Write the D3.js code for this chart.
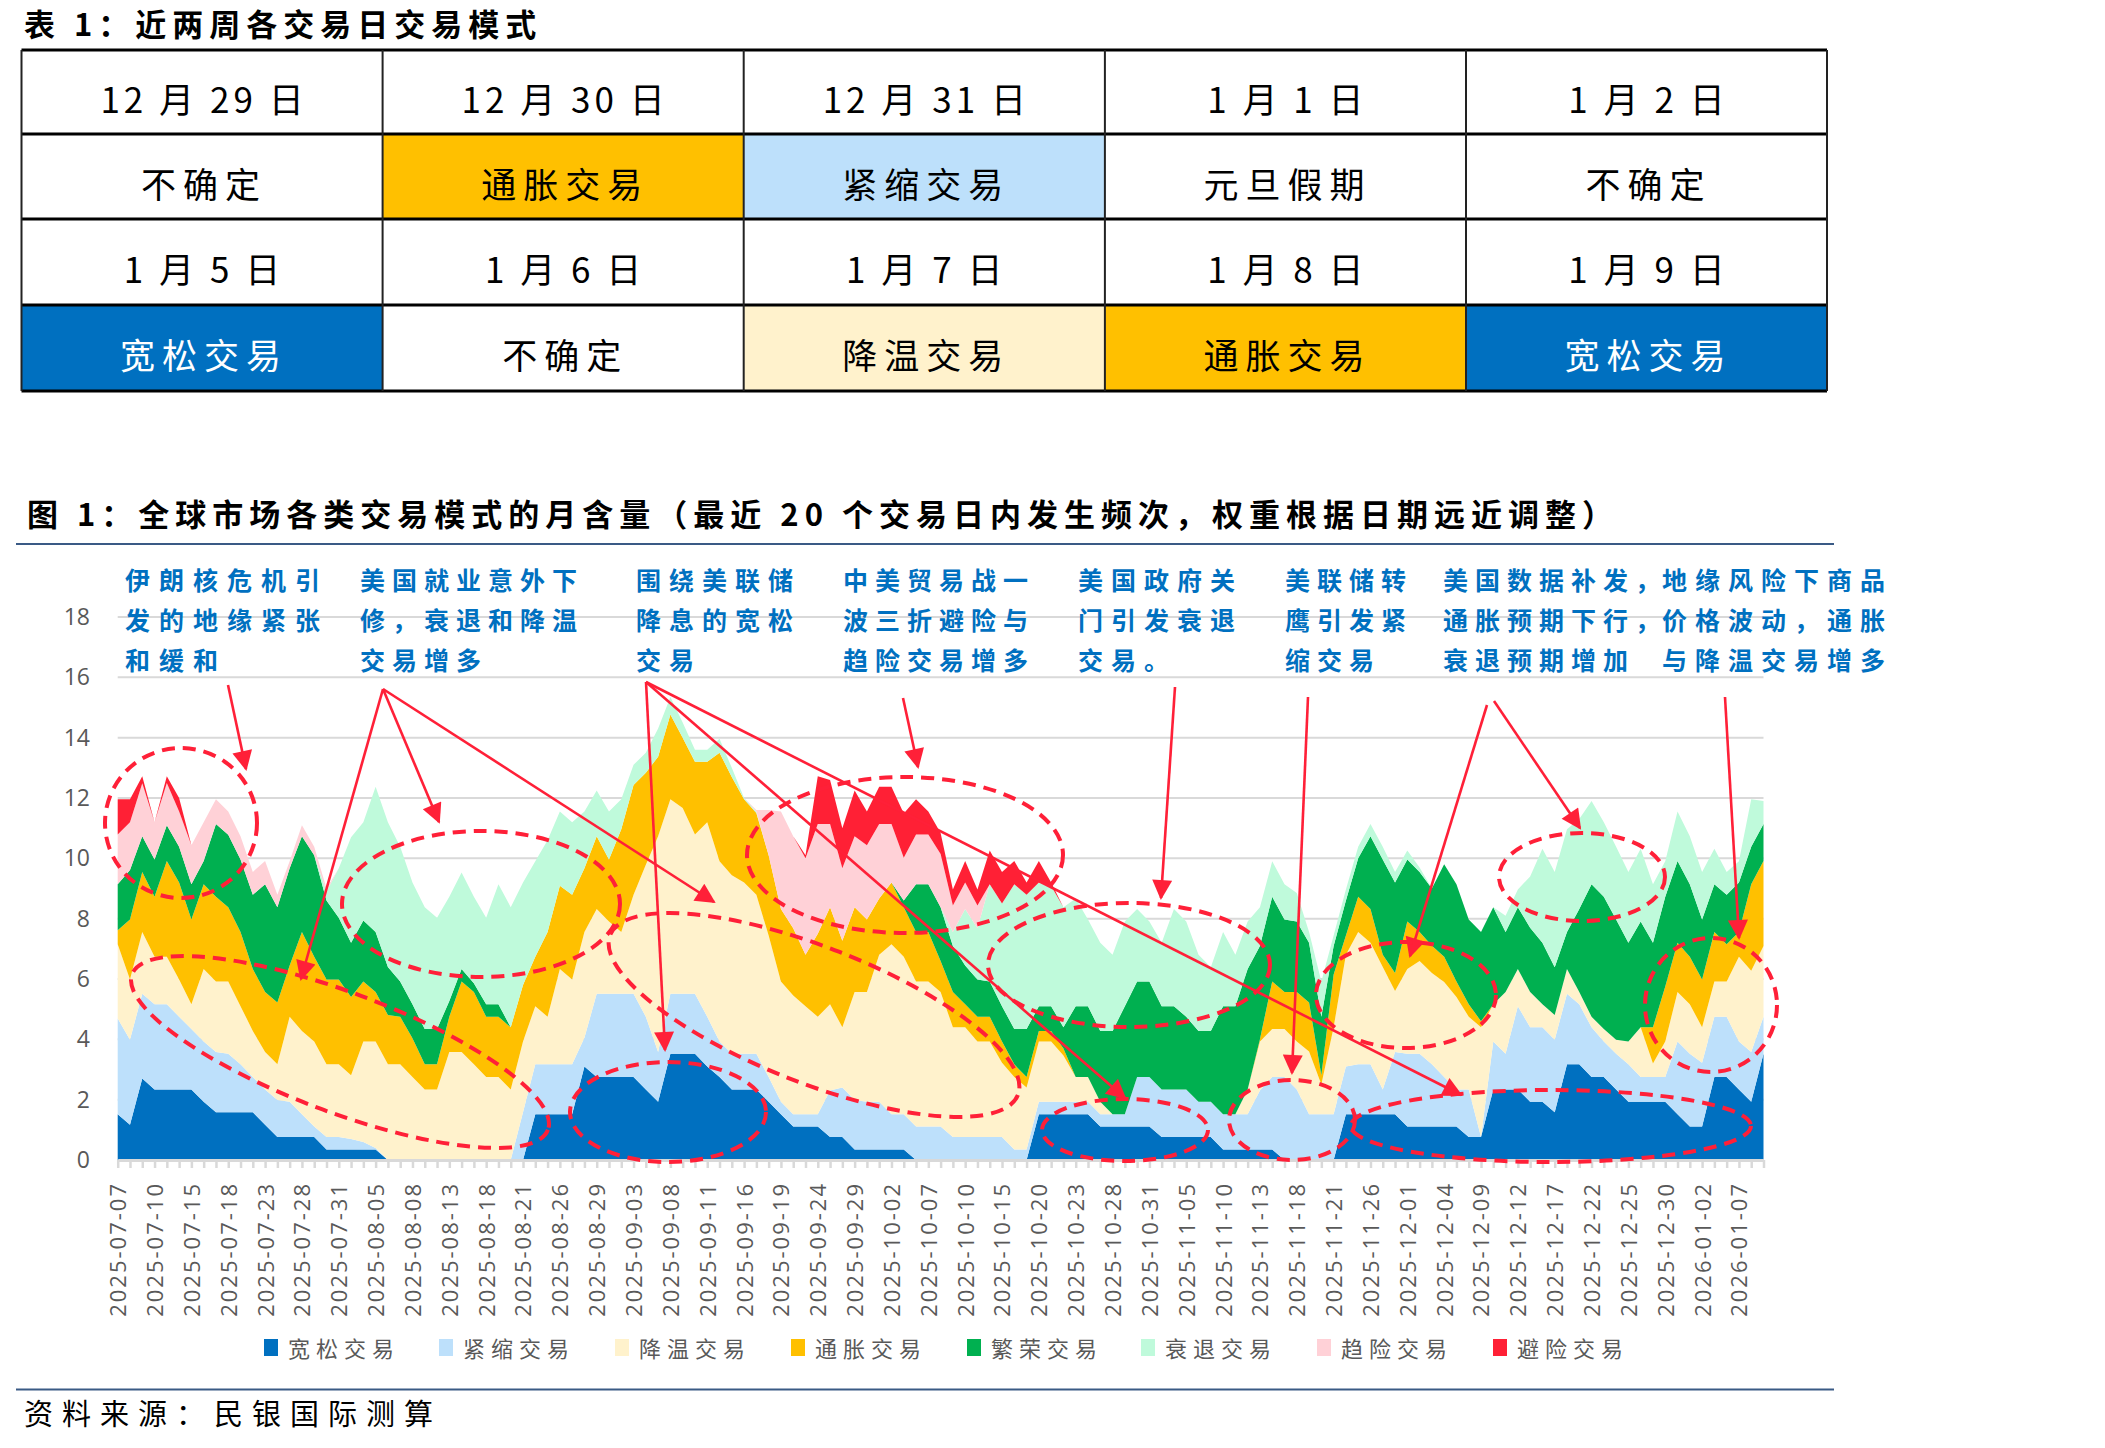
<!DOCTYPE html>
<html><head><meta charset="utf-8">
<script src="https://cdn.jsdelivr.net/npm/d3@7"></script>
<style>
body{margin:0;background:#fff;}
svg{display:block;}
</style></head><body>
<svg id="c" width="2105" height="1448"></svg>
<script>
// ---------------- DATA ----------------
const seriesNames = ["宽松交易","紧缩交易","降温交易","通胀交易","繁荣交易","衰退交易","趋险交易","避险交易"];
const seriesColors = ["#0070C0","#BDE0FB","#FFF2CC","#FFC000","#00B050","#BFFADB","#FFD1D7","#FF2035"];

const tickLabels = ["2025-07-07","2025-07-10","2025-07-15","2025-07-18","2025-07-23","2025-07-28","2025-07-31","2025-08-05","2025-08-08","2025-08-13","2025-08-18","2025-08-21","2025-08-26","2025-08-29","2025-09-03","2025-09-08","2025-09-11","2025-09-16","2025-09-19","2025-09-24","2025-09-29","2025-10-02","2025-10-07","2025-10-10","2025-10-15","2025-10-20","2025-10-23","2025-10-28","2025-10-31","2025-11-05","2025-11-10","2025-11-13","2025-11-18","2025-11-21","2025-11-26","2025-12-01","2025-12-04","2025-12-09","2025-12-12","2025-12-17","2025-12-22","2025-12-25","2025-12-30","2026-01-02","2026-01-07"];

// 宽松交易
const kuansong = [1.52,1.17,2.70,2.34,2.34,2.34,2.34,1.93,1.58,1.58,
1.58,1.58,1.17,0.76,0.76,0.76,0.76,0.35,0.35,0.35,
0.35,0.35,0,0,0,0,0,0,0,0,
0,0,0,0,1.52,1.52,1.52,1.52,3.10,2.75,
2.75,2.75,2.75,2.34,1.93,3.52,3.52,3.52,3.10,2.75,
2.34,2.34,2.34,1.93,1.52,1.11,1.11,1.11,0.76,0.76,
0.35,0.35,0.35,0.35,0.35,0,0,0,0,0,
0,0,0,0,0,1.52,1.52,1.52,1.52,1.52,
1.11,1.11,1.11,1.11,1.11,0.76,0.76,0.76,0.76,0.76,
0.35,0.35,0.35,0.35,0.35,0,0,0,0,0,
1.52,1.52,1.52,1.52,1.52,1.11,1.11,1.11,1.11,1.11,
0.76,0.76,2.34,2.34,2.34,1.93,1.93,1.58,3.17,3.17,
2.75,2.75,2.34,1.93,1.93,1.93,1.93,1.52,1.11,1.11,
2.75,2.75,2.34,1.93,3.52];
// 紧缩交易
const jinsuo = [3.17,2.82,2.81,2.82,2.82,2.41,2.00,2.00,2.00,1.94,
1.59,1.17,1.17,1.23,1.17,0.76,0.35,0.41,0.41,0.35,
0.25,0.05,0,0,0,0,0,0,0,0,
0,0,0,1.58,1.65,1.65,1.65,1.65,0.95,2.76,
2.76,2.76,2.76,2.41,1.65,1.99,1.99,1.99,1.65,1.18,
1.18,1.18,1.18,0.82,0.41,0.41,0.41,0.41,1.54,1.64,
1.64,1.58,1.58,1.17,1.17,1.11,1.11,1.11,0.76,0.76,
0.76,0.76,0.76,0.35,0.35,0.41,0.41,0.41,0.41,0.41,
0.41,0.41,0.41,1.64,1.64,1.58,1.58,1.58,1.17,1.17,
1.17,1.17,1.17,1.95,2.40,2.75,2.34,1.52,1.52,1.52,
1.58,1.65,1.65,0.82,2.06,2.41,2.41,2.06,1.64,1.23,
1.58,0,1.59,1.18,2.76,2.47,2.47,2.41,2.34,1.99,
1.65,1.18,1.18,1.24,0.82,0.82,0.82,2.41,2.41,2.11,
2.00,2.00,1.59,1.65,1.23];
// 降温交易
const jiangwen = [2.46,1.99,2.05,1.58,1.58,1.23,0.82,2.40,2.34,2.40,
1.93,1.53,1.24,1.18,2.82,2.76,2.82,2.41,2.41,2.11,
3.33,3.53,3.17,3.17,2.75,2.34,2.34,3.58,3.58,3.17,
2.75,2.75,2.34,2.35,1.93,1.58,3.16,2.81,3.51,2.81,
2.40,2.05,3.28,5.04,7.15,6.45,6.16,5.28,6.45,5.97,
5.92,5.68,5.27,4.69,3.99,3.93,3.58,3.23,2.86,2.00,
3.58,3.64,4.87,5.63,5.22,4.81,4.81,4.46,3.64,3.64,
3.17,3.17,2.46,2.40,2.05,2.00,2.00,1.53,0.82,0.82,
0.41,0,0,0,0,0,0,0,0,0,
0,0,0.82,1.63,1.59,1.59,1.59,2.08,0.98,2.88,
3.70,4.39,4.03,4.06,2.02,2.81,3.08,3.03,3.15,3.06,
2.41,3.64,1.23,2.05,1.23,1.17,0.76,0.82,0.82,0.41,
0.35,0.41,0.47,0.76,1.65,0.45,1.18,1.64,1.64,1.18,
1.17,1.17,2.81,2.69,2.34];
// 通胀交易
const tongzhang = [0.47,1.99,1.99,1.99,3.17,3.22,2.81,2.81,2.81,2.46,
2.46,2.05,1.99,2.05,1.70,3.28,2.81,2.81,2.81,2.59,
1.99,1.64,1.64,1.58,1.29,0.83,0.83,1.17,2.34,2.40,
2.00,2.00,2.06,1.87,1.64,2.81,2.76,2.81,2.11,2.41,
2.05,3.40,3.64,3.05,2.64,2.81,2.33,2.41,2.00,3.60,
3.26,2.76,2.71,2.66,2.40,2.23,1.70,2.75,3.22,2.87,
2.81,2.40,1.87,2.05,1.64,1.64,1.64,1.03,1.17,0.76,
0.82,0.82,0.71,0.42,0.35,0.35,0.35,0.24,0,0,
0,0,0,0,0,0,0,0,0,0,
0,0,0,0.07,1.58,1.23,1.64,1.62,0.31,1.75,
0.64,1.17,1.12,0.40,0.60,1.58,0.96,0.90,0.84,0.52,
0.41,0.20,0,0,0,0,0,0,0,0,
0,0,0,0,0,1.20,1.82,1.63,1.58,1.58,
1.64,1.23,0.82,2.87,2.82];
// 繁荣交易
const fanrong = [1.52,1.64,1.18,1.23,1.19,1.18,1.17,0.77,2.41,2.40,
2.40,2.46,3.57,3.16,3.22,3.17,3.36,2.62,2.05,1.80,
2.02,1.99,1.59,1.17,1.12,1.17,1.17,0.52,0.41,0.29,
0.41,0.41,0,0,0,0,0,0,0,0,
0,0,0,0,0,0,0,0,0,0,
0,0,0,0,0,0,0,0,0,0,
0,0,0,0,0.22,1.58,1.58,1.78,1.52,1.29,
1.23,1.17,1.17,1.17,1.59,0.82,0.82,0.70,2.35,2.35,
2.35,2.76,3.58,3.17,3.17,2.76,2.76,2.41,2.35,2.35,
3.58,3.58,3.99,3.09,2.81,2.40,2.34,1.98,1.94,0.94,
1.16,1.27,2.41,3.16,3.00,2.05,1.99,1.90,3.06,3.22,
2.81,2.96,3.22,1.99,2.05,2.13,2.04,1.58,1.23,2.75,
4.39,4.39,3.98,3.27,3.51,2.80,2.98,2.71,2.40,1.99,
1.58,1.64,1.64,1.24,1.23];
// 衰退交易
const shuaitui = [0,0,0,0,0,0,0,0,0,0,
0,0,0,0,0,0,0,0.30,1.64,3.50,
3.26,4.81,4.80,4.46,4.04,4.04,3.69,3.46,3.20,2.87,
2.87,3.98,3.98,3.40,3.16,3.04,2.46,2.41,1.88,1.52,
1.59,1.00,0.67,0.66,0.93,0.58,0.50,0.40,0.40,0.46,
0.30,0.04,0.05,0,0,0,0,0,0,0,
0,0,0,0,0,0,0,0,0.47,1.87,
1.70,3.22,3.40,4.80,4.45,4.10,3.98,3.98,3.57,2.87,
2.92,2.52,2.81,2.40,1.99,2.10,3.22,3.16,2.52,2.11,
2.46,1.70,1.58,1.29,1.17,1.17,0.94,0.36,1.17,0.35,
0.37,0.38,0.41,0.42,0.35,0.30,0.15,0,0,0,
0,0,0,0.54,0.59,1.70,3.12,3.16,3.40,2.98,
2.76,2.47,2.41,2.35,2.41,1.94,1.17,1.64,1.59,1.58,
1.18,0.76,0.70,1.58,0.76];
// 趋险交易
const quxian = [1.65,1.59,1.76,1.24,1.40,1.17,1.29,1.29,0.82,0.77,
0.77,0.76,0.77,0.41,0.23,0.37,0.28,0.10,0,0,
0,0,0,0,0,0,0,0,0,0,
0,0,0,0,0,0,0,0,0,0,
0,0,0,0,0,0,0,0,0,0,
0,0,0.05,1.50,3.23,3.05,3.20,3.64,2.76,2.40,
2.35,2.46,2.47,1.94,1.42,1.65,1.65,1.76,0.88,0.88,
0.76,0,0,0,0,0,0,0,0,0,
0,0,0,0,0,0,0,0,0,0,
0,0,0,0,0,0,0,0,0,0,
0,0,0,0,0,0,0,0,0,0,
0,0,0,0,0,0,0,0,0,0,
0,0,0,0,0,0,0,0,0,0,
0,0,0,0,0];
// 避险交易
const bixian = [1.17,0.76,0.23,0,0.22,0.45,0,0,0,0,
0,0,0,0,0,0,0,0,0,0,
0,0,0,0,0,0,0,0,0,0,
0,0,0,0,0,0,0,0,0,0,
0,0,0,0,0,0,0,0,0,0,
0,0,0,0,0,0,0.10,1.58,1.46,1.33,
1.52,1.12,1.23,1.23,1.47,1.17,0.76,0.70,0.53,0.71,
0.53,1.12,1.05,0.77,0.41,0.71,0.12,0,0,0,
0,0,0,0,0,0,0,0,0,0,
0,0,0,0,0,0,0,0,0,0,
0,0,0,0,0,0,0,0,0,0,
0,0,0,0,0,0,0,0,0,0,
0,0,0,0,0,0,0,0,0,0,
0,0,0,0,0];

const tableDates = ["12 月 29 日","12 月 30 日","12 月 31 日","1 月 1 日","1 月 2 日","1 月 5 日","1 月 6 日","1 月 7 日","1 月 8 日","1 月 9 日"];
const tableModes = ["不确定","通胀交易","紧缩交易","元旦假期","不确定","宽松交易","不确定","降温交易","通胀交易","宽松交易"];

// trading days (weekdays) from 2025-07-07
const dates = [];
{ const d = new Date(Date.UTC(2025,6,7));
  while (dates.length < kuansong.length) {
    const wd = d.getUTCDay();
    if (wd !== 0 && wd !== 6) dates.push(d.toISOString().slice(0,10));
    d.setUTCDate(d.getUTCDate()+1);
  } }

// ---------------- DRAW ----------------
const svg = d3.select("#c");
const CJK = "'Noto Sans CJK SC','Noto Sans',sans-serif";
const LAT = "'Open Sans','Liberation Sans',sans-serif";
const RED = "#FF2038";

// Table title
svg.append("text").attr("x",24).attr("y",36).attr("font-family",CJK).attr("font-weight",700)
  .attr("font-size",31).attr("letter-spacing",6).attr("fill","#000").text("表 1：近两周各交易日交易模式");

// Table
const colX = [21.5,382.6,743.7,1104.9,1466,1827];
const rowY = [50,134,219,305,391];
const modeFill = {"通胀交易":"#FFC000","紧缩交易":"#BDE0FB","宽松交易":"#0070C0","降温交易":"#FFF2CC"};
for (let r=0;r<4;r++){
  for (let c=0;c<5;c++){
    const isDate = r%2===0;
    const idx = Math.floor(r/2)*5+c;
    const txt = isDate ? tableDates[idx] : tableModes[idx];
    const fill = isDate ? "#fff" : (modeFill[txt]||"#fff");
    svg.append("rect").attr("x",colX[c]).attr("y",rowY[r]).attr("width",colX[c+1]-colX[c]).attr("height",rowY[r+1]-rowY[r]).attr("fill",fill);
    svg.append("text").attr("x",(colX[c]+colX[c+1])/2+2).attr("y",(rowY[r]+rowY[r+1])/2+21)
      .attr("text-anchor","middle").attr("font-family",CJK).attr("font-size",35).attr("letter-spacing",isDate?4:7)
      .attr("fill", txt==="宽松交易" && !isDate ? "#fff" : "#000").text(txt);
  }
}
rowY.forEach(yv=>svg.append("line").attr("x1",colX[0]).attr("x2",colX[5]).attr("y1",yv).attr("y2",yv).attr("stroke","#000").attr("stroke-width",3));
colX.forEach(xv=>svg.append("line").attr("x1",xv).attr("x2",xv).attr("y1",rowY[0]).attr("y2",rowY[4]).attr("stroke","#222").attr("stroke-width",2));

// Chart title
svg.append("text").attr("x",27).attr("y",526).attr("font-family",CJK).attr("font-weight",700)
  .attr("font-size",31).attr("letter-spacing",6).attr("fill","#000")
  .text("图 1：全球市场各类交易模式的月含量（最近 20 个交易日内发生频次，权重根据日期远近调整）");
svg.append("line").attr("x1",16).attr("x2",1834).attr("y1",544).attr("y2",544).attr("stroke","#3A5A85").attr("stroke-width",2);

// Scales
const x = d3.scalePoint().domain(dates).range([117.7,1763.5]);
const y = d3.scaleLinear().domain([0,18]).range([1160,617]);

// gridlines
const g = svg.append("g");
g.selectAll("line.grid").data(d3.range(2,19,2)).join("line")
  .attr("x1",117.7).attr("x2",1763.5).attr("y1",d=>y(d)).attr("y2",d=>y(d))
  .attr("stroke","#D9D9D9").attr("stroke-width",2);

// Stack
const rows = dates.map((d,i)=>({date:d, "宽松交易":kuansong[i], "紧缩交易":jinsuo[i], "降温交易":jiangwen[i],
  "通胀交易":tongzhang[i], "繁荣交易":fanrong[i], "衰退交易":shuaitui[i], "趋险交易":quxian[i], "避险交易":bixian[i]}));
const stack = d3.stack().keys(seriesNames)(rows);
const area = d3.area().x(d=>x(d.data.date)).y0(d=>y(d[0])).y1(d=>y(d[1]));
g.selectAll("path.area").data(stack).join("path").attr("class","area")
  .attr("d",area).attr("fill",(d,i)=>seriesColors[i]);

// Y axis labels
const yAxis = d3.axisLeft(y).tickValues(d3.range(0,19,2)).tickSize(0).tickPadding(0);
const ya = svg.append("g").attr("transform","translate(90,0)").call(yAxis);
ya.select(".domain").remove();
ya.selectAll("text").attr("font-family",LAT).attr("font-size",23).attr("fill","#595959");

// X axis
const tickSet = new Set(tickLabels);
const xAxis = d3.axisBottom(x).tickValues(dates).tickSize(8).tickSizeOuter(0).tickFormat(d=>tickSet.has(d)?d:"");
const xa = svg.append("g").attr("transform","translate(0,1160)").call(xAxis);
xa.select(".domain").attr("stroke","#D9D9D9").attr("stroke-width",3);
xa.selectAll(".tick line").attr("stroke","#D9D9D9").attr("stroke-width",2.5);
xa.selectAll(".tick text").attr("transform","rotate(-90)").attr("text-anchor","end")
  .attr("x",-22).attr("y",0).attr("dy","0.36em")
  .attr("font-family",LAT).attr("font-size",22).attr("letter-spacing",2).attr("fill","#595959");

// Legend
const legX = [264,439,615,791,967,1141,1317,1493];
const leg = svg.append("g");
seriesNames.forEach((n,i)=>{
  leg.append("rect").attr("x",legX[i]).attr("y",1339).attr("width",14).attr("height",17).attr("fill",seriesColors[i]);
  leg.append("text").attr("x",legX[i]+24).attr("y",1357).attr("font-family",CJK).attr("font-size",22)
    .attr("letter-spacing",6).attr("fill","#595959").text(n);
});

// Bottom rule and source
svg.append("line").attr("x1",16).attr("x2",1834).attr("y1",1389.5).attr("y2",1389.5).attr("stroke","#3A5A85").attr("stroke-width",2);
svg.append("text").attr("x",24).attr("y",1425).attr("font-family",CJK).attr("font-size",29).attr("letter-spacing",9)
  .attr("fill","#000").text("资料来源：民银国际测算");

// Annotations [x, letter-spacing, lines]
const notes = [
  [125,9,["伊朗核危机引","发的地缘紧张","和缓和"]],
  [360,7,["美国就业意外下","修，衰退和降温","交易增多"]],
  [636,8,["围绕美联储","降息的宽松","交易"]],
  [843,7,["中美贸易战一","波三折避险与","趋险交易增多"]],
  [1078,8,["美国政府关","门引发衰退","交易。"]],
  [1285,7,["美联储转","鹰引发紧","缩交易"]],
  [1443,7,["美国数据补发，","通胀预期下行，","衰退预期增加"]],
  [1662,8,["地缘风险下商品","价格波动，通胀","与降温交易增多"]]
];
const an = svg.append("g");
notes.forEach(([nx,ls,lines])=>{
  lines.forEach((t,k)=>{
    an.append("text").attr("x",nx).attr("y",590+k*40).attr("font-family",CJK).attr("font-weight",700)
      .attr("font-size",25).attr("letter-spacing",ls).attr("fill","#0070C0").text(t);
  });
});

// Arrows
const defs = svg.append("defs");
defs.append("marker").attr("id","ah").attr("viewBox","0 0 10 10").attr("refX",9).attr("refY",5)
  .attr("markerWidth",24).attr("markerHeight",20).attr("markerUnits","userSpaceOnUse").attr("orient","auto")
  .append("path").attr("d","M0,0L10,5L0,10z").attr("fill",RED);
const arrows = [
  [228,685,246,769],[383,689,301,979],[383,689,439,822],[383,689,714,902],
  [646,682,665,1050],[646,682,1125,1098],[646,682,1461,1095],
  [903,698,918,767],[1175,687,1161,898],[1308,697,1292,1073],
  [1487,705,1410,956],[1494,701,1580,828],[1725,697,1739,938]
];
arrows.forEach(a=>svg.append("line").attr("x1",a[0]).attr("y1",a[1]).attr("x2",a[2]).attr("y2",a[3])
  .attr("stroke",RED).attr("stroke-width",2.6).attr("marker-end","url(#ah)"));

// Dashed ellipses [cx, cy, rx, ry, rot]
const ells = [
  [181,823,76,75,0],[340,1052,222,60,20.5],[481,904,139,73,0],[668,1112,98,50,0],
  [814,1015,219,68,21.4],[905,855,158,78,0],[1129,965,141,62,0],[1125,1130,83,31,0],
  [1292,1120,63,40,0],[1406,995,90,53,0],[1551,1126,200,36,0],[1582,877,83,44,0],[1711,1005,66,67,0]
];
ells.forEach(e=>svg.append("ellipse").attr("cx",0).attr("cy",0).attr("rx",e[2]).attr("ry",e[3])
  .attr("transform",`translate(${e[0]},${e[1]}) rotate(${e[4]})`)
  .attr("fill","none").attr("stroke",RED).attr("stroke-width",4).attr("stroke-dasharray","13,8"));
</script>
</body></html>
